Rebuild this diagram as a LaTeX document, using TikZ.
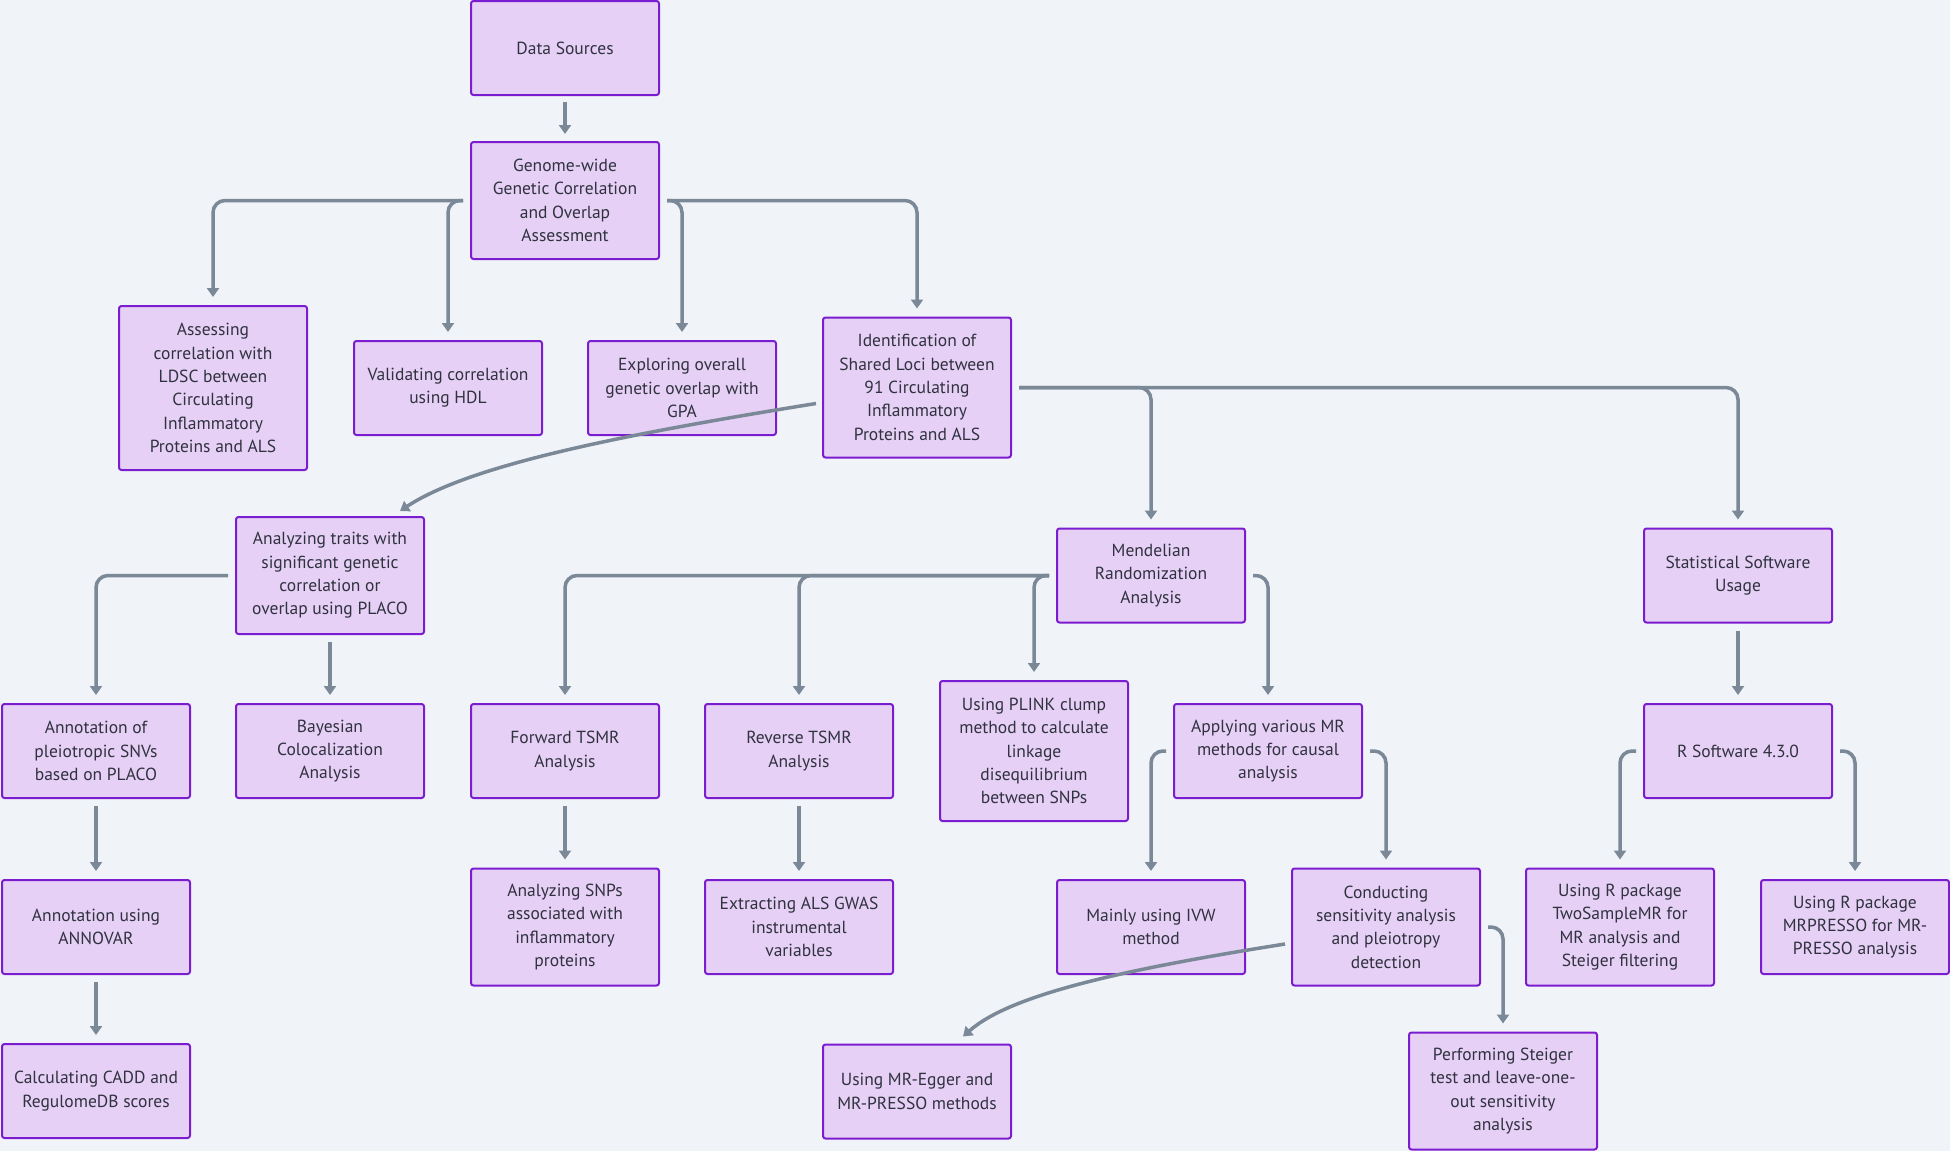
\documentclass[tikz,border=0pt]{standalone}
\usepackage{fontspec}
\setmainfont{PT Sans}
\usetikzlibrary{arrows.meta}
\definecolor{bgc}{RGB}{240,244,248}
\definecolor{boxfill}{RGB}{230,208,245}
\definecolor{boxdraw}{RGB}{124,28,208}
\definecolor{txt}{RGB}{48,50,64}
\definecolor{edge}{RGB}{122,136,152}
\begin{document}
\begin{tikzpicture}[x=1pt,y=-1pt,
  box/.style={draw=boxdraw, fill=boxfill, line width=2pt, rounded corners=2.5pt,
    minimum width=188pt, inner sep=0pt, align=center, text=txt,
    font=\fontsize{17.5}{23.3}\selectfont},
  h94/.style={minimum height=94pt},
  h117/.style={minimum height=117pt},
  h140/.style={minimum height=140pt},
  h164/.style={minimum height=164pt},
  conn/.style={draw=edge, line width=3.5pt, rounded corners=12pt,
    -{Triangle[width=12pt,length=9pt]}},
]
\fill[bgc] (0,0) rectangle (1950,1151);
\useasboundingbox (0,0) rectangle (1950,1151);

% row 0-1
\node[box,h94]  (ds)    at (565,48)  {Data Sources};
\node[box,h117] (gen)   at (565,200.5) {Genome-wide\\Genetic Correlation\\and Overlap\\Assessment};
% row 2
\node[box,h164] (ldsc)  at (213,388) {Assessing\\correlation with\\LDSC between\\Circulating\\Inflammatory\\Proteins and ALS};
\node[box,h94]  (hdl)   at (448,388) {Validating correlation\\using HDL};
\node[box,h94]  (gpa)   at (682,388) {Exploring overall\\genetic overlap with\\GPA};
\node[box,h140] (ident) at (917,387.5) {Identification of\\Shared Loci between\\91 Circulating\\Inflammatory\\Proteins and ALS};
% row 3
\node[box,h117] (placo) at (330,575.5) {Analyzing traits with\\significant genetic\\correlation or\\overlap using PLACO};
\node[box,h94]  (mr)    at (1151,575.5) {Mendelian\\Randomization\\Analysis};
\node[box,h94]  (stat)  at (1738,575.5) {Statistical Software\\Usage};
% row 4
\node[box,h94]  (annp)  at (96,751)  {Annotation of\\pleiotropic SNVs\\based on PLACO};
\node[box,h94]  (bayes) at (330,751) {Bayesian\\Colocalization\\Analysis};
\node[box,h94]  (fwd)   at (565,751) {Forward TSMR\\Analysis};
\node[box,h94]  (rev)   at (799,751) {Reverse TSMR\\Analysis};
\node[box,h140] (plink) at (1034,751) {Using PLINK clump\\method to calculate\\linkage\\disequilibrium\\between SNPs};
\node[box,h94]  (apply) at (1268,751) {Applying various MR\\methods for causal\\analysis};
\node[box,h94]  (rsw)   at (1738,751) {R Software 4.3.0};
% row 5
\node[box,h94]  (annov) at (96,927)  {Annotation using\\ANNOVAR};
\node[box,h117] (snps)  at (565,927) {Analyzing SNPs\\associated with\\inflammatory\\proteins};
\node[box,h94]  (extr)  at (799,927) {Extracting ALS GWAS\\instrumental\\variables};
\node[box,h94]  (ivw)   at (1151,927) {Mainly using IVW\\method};
\node[box,h117] (sens)  at (1386,927) {Conducting\\sensitivity analysis\\and pleiotropy\\detection};
\node[box,h117] (tsmr)  at (1620,927) {Using R package\\TwoSampleMR for\\MR analysis and\\Steiger filtering};
\node[box,h94]  (mrp)   at (1855,927) {Using R package\\MRPRESSO for MR-\\PRESSO analysis};
% row 6
\node[box,h94]  (cadd)  at (96,1091) {Calculating CADD and\\RegulomeDB scores};
\node[box,h94]  (egger) at (917,1091.5) {Using MR-Egger and\\MR-PRESSO methods};
\node[box,h117] (steig) at (1503,1091) {Performing Steiger\\test and leave-one-\\out sensitivity\\analysis};

% connectors
\draw[conn] ([yshift=-6pt]ds.south) -- ([yshift=7pt]gen.north);
\draw[conn] ([xshift=-7pt]gen.west) -| ([yshift=8pt]ldsc.north);
\draw[conn] ([xshift=-7pt]gen.west) -| ([yshift=8pt]hdl.north);
\draw[conn] ([xshift=7pt]gen.east) -| ([yshift=8pt]gpa.north);
\draw[conn] ([xshift=7pt]gen.east) -| ([yshift=8pt]ident.north);

\draw[conn] ([xshift=-6pt,yshift=-16pt]ident.west) .. controls (620,435) and (470,465) .. ([xshift=70pt,yshift=5pt]placo.north);
\draw[conn] ([xshift=7pt]ident.east) -| ([yshift=8pt]mr.north);
\draw[conn] ([xshift=7pt]ident.east) -| ([yshift=8pt]stat.north);

\draw[conn] ([xshift=-7pt]placo.west) -| ([yshift=8pt]annp.north);
\draw[conn] ([yshift=-7pt]placo.south) -- ([yshift=8pt]bayes.north);

\draw[conn] ([xshift=-7pt]mr.west) -| ([yshift=8pt]fwd.north);
\draw[conn] ([xshift=-7pt]mr.west) -| ([yshift=8pt]rev.north);
\draw[conn] ([xshift=-7pt]mr.west) -| ([yshift=8pt]plink.north);
\draw[conn] ([xshift=7pt]mr.east) -| ([yshift=8pt]apply.north);

\draw[conn] ([yshift=-7pt]stat.south) -- ([yshift=8pt]rsw.north);

\draw[conn] ([yshift=-7pt]annp.south) -- ([yshift=8pt]annov.north);
\draw[conn] ([yshift=-7pt]annov.south) -- ([yshift=8pt]cadd.north);
\draw[conn] ([yshift=-7pt]fwd.south) -- ([yshift=8pt]snps.north);
\draw[conn] ([yshift=-7pt]rev.south) -- ([yshift=8pt]extr.north);

\draw[conn] ([xshift=-7pt]apply.west) -| ([yshift=8pt]ivw.north);
\draw[conn] ([xshift=7pt]apply.east) -| ([yshift=8pt]sens.north);
\draw[conn] ([xshift=-7pt]rsw.west) -| ([yshift=8pt]tsmr.north);
\draw[conn] ([xshift=7pt]rsw.east) -| ([yshift=8pt]mrp.north);

\draw[conn] ([xshift=-6pt,yshift=-17pt]sens.west) .. controls (1120,970) and (1010,995) .. ([xshift=46pt,yshift=7pt]egger.north);
\draw[conn] ([xshift=7pt]sens.east) -| ([yshift=8pt]steig.north);
\end{tikzpicture}
\end{document}
